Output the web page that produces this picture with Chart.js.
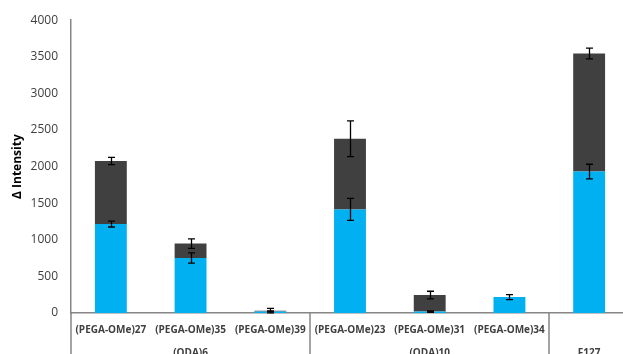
<!DOCTYPE html>
<html><head><meta charset="utf-8">
<script src="https://cdn.jsdelivr.net/npm/chart.js@4/dist/chart.umd.min.js"></script>
<style>html,body{margin:0;padding:0;overflow:hidden;background:#fff}</style>
</head><body>
<canvas id="c" width="629" height="354"></canvas>
<script>
const categories = ['(PEGA-OMe)27','(PEGA-OMe)35','(PEGA-OMe)39','(PEGA-OMe)23','(PEGA-OMe)31','(PEGA-OMe)34',''];
const groupLabels = ['(ODA)6','(ODA)10','F127'];
const groupSizes = [3,3,1];
const blueValues = [1215, 752, 22, 1415, 20, 218, 1932];
const blueErrors = [40, 70, 5, 150, 10, 34, 100];
const darkValues = [862, 196, 10, 966, 225, 0, 1613];
const darkErrors = [50, 65, 30, 245, 52, 0, 73];
const yTickValues = [0, 500, 1000, 1500, 2000, 2500, 3000, 3500, 4000];

const FONT = '"Open Sans", "Liberation Sans", sans-serif';
const AXIS = '#868686';

const errorBars = {
  id: 'errorBars',
  afterDatasetsDraw(chart) {
    const {ctx, scales: {x, y}} = chart;
    const errs = [blueErrors, darkErrors];
    ctx.save();
    ctx.strokeStyle = '#000';
    ctx.lineWidth = 1.3;
    chart.data.datasets.forEach((ds, di) => {
      ds.data.forEach((v, i) => {
        const e = errs[di][i];
        if (!e) return;
        let top = 0;
        for (let k = 0; k <= di; k++) top += chart.data.datasets[k].data[i];
        const px = Math.round(x.getPixelForValue(i)) + 0.5;
        const y1 = y.getPixelForValue(top + e);
        const y2 = y.getPixelForValue(Math.max(0, top - e));
        ctx.beginPath();
        ctx.moveTo(px, y1); ctx.lineTo(px, y2);
        ctx.moveTo(px - 3.5, y1); ctx.lineTo(px + 3.5, y1);
        ctx.moveTo(px - 3.5, y2); ctx.lineTo(px + 3.5, y2);
        ctx.stroke();
      });
    });
    ctx.restore();
  }
};

const groups = {
  id: 'groups',
  afterDraw(chart) {
    const {ctx, scales: {x}, chartArea} = chart;
    ctx.save();
    ctx.strokeStyle = AXIS;
    ctx.lineWidth = 1.5;
    let start = 0;
    const bounds = [-0.5];
    groupSizes.forEach(s => { start += s; bounds.push(start - 0.5); });
    bounds.forEach(b => {
      const px = Math.round(x.getPixelForValue(b));
      ctx.beginPath();
      ctx.moveTo(px, chartArea.bottom);
      ctx.lineTo(px, chart.height);
      ctx.stroke();
    });
    ctx.fillStyle = '#404040';
    ctx.font = 'bold 10px ' + FONT;
    ctx.textAlign = 'center';
    ctx.textBaseline = 'middle';
    start = 0;
    groupLabels.forEach((g, gi) => {
      const a = x.getPixelForValue(start - 0.5);
      const b = x.getPixelForValue(start + groupSizes[gi] - 0.5);
      ctx.fillText(g, (a + b) / 2, 353);
      start += groupSizes[gi];
    });
    ctx.restore();
  }
};

new Chart(document.getElementById('c'), {
  type: 'bar',
  data: {
    labels: categories,
    datasets: [
      {data: blueValues, backgroundColor: '#00B0F0', barPercentage: 0.4, categoryPercentage: 1},
      {data: darkValues, backgroundColor: '#404040', barPercentage: 0.4, categoryPercentage: 1}
    ]
  },
  options: {
    responsive: false,
    animation: false,
    layout: {padding: {top: 17, right: 0, left: 0, bottom: 0}},
    plugins: {legend: {display: false}, tooltip: {enabled: false}},
    scales: {
      x: {
        stacked: true,
        grid: {display: false},
        border: {display: true, color: AXIS, width: 1.5},
        ticks: {color: '#404040', font: {family: FONT, size: 10, weight: 'bold'}, padding: 3, maxRotation: 0, autoSkip: false},
        afterFit(s) { s.height = 41; }
      },
      y: {
        stacked: true,
        min: 0, max: 4000,
        grid: {display: false, drawTicks: false},
        border: {display: true, color: AXIS, width: 1.5},
        afterBuildTicks(s) { s.ticks = yTickValues.map(v => ({value: v})); },
        ticks: {color: '#404040', font: {family: FONT, size: 12}, padding: 13, callback: v => String(v)},
        title: {display: true, text: 'Δ Intensity', color: '#000', font: {family: FONT, size: 12, weight: 'bold'}, padding: {top: 10, bottom: 0}},
        afterFit(s) { s.width = 71; }
      }
    }
  },
  plugins: [errorBars, groups]
});
</script>
</body></html>
